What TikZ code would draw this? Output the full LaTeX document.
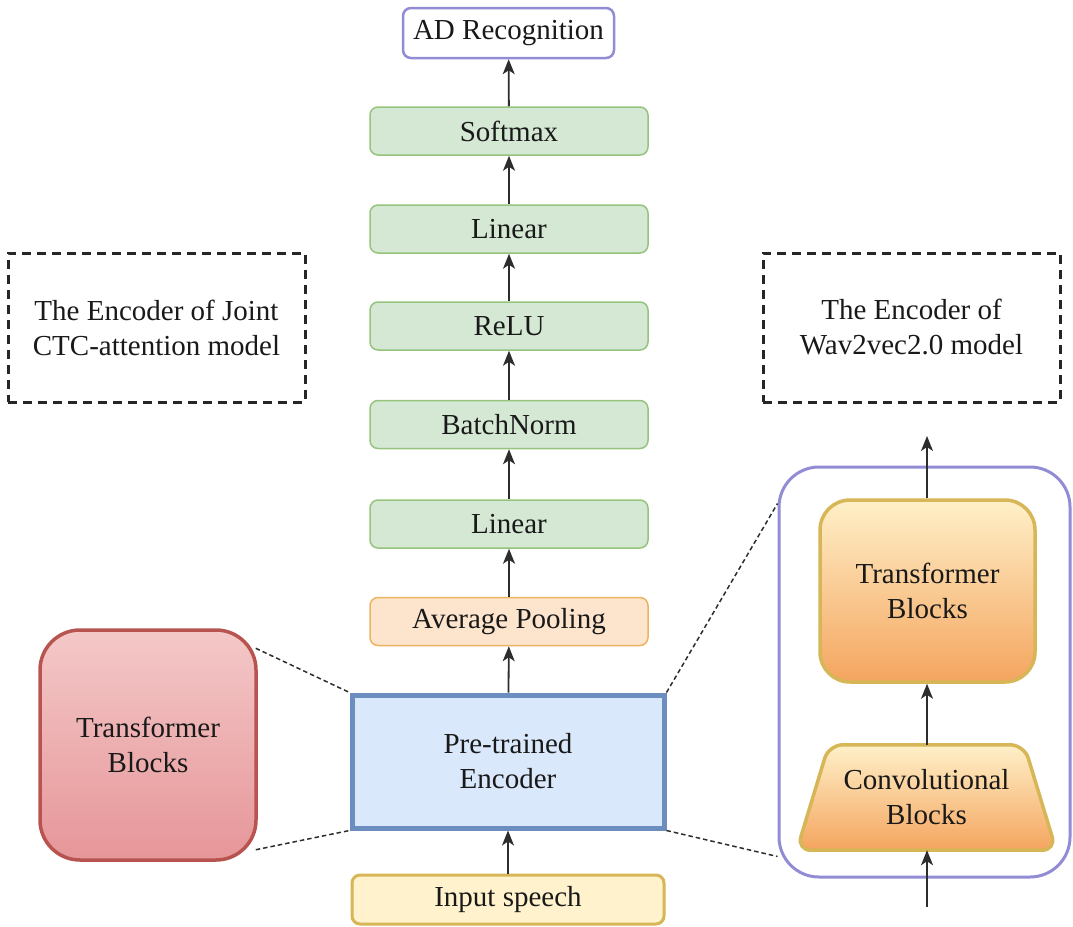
\documentclass[tikz,border=0pt]{standalone}
\usepackage{fontspec}
\setmainfont{Liberation Serif}
\usetikzlibrary{arrows.meta,calc}

\definecolor{txt}{RGB}{25,25,25}
\definecolor{lnk}{RGB}{45,45,45}
\definecolor{violetline}{RGB}{145,140,212}
\definecolor{greenfill}{RGB}{213,232,212}
\definecolor{greenline}{RGB}{150,195,125}
\definecolor{poolfill}{RGB}{253,228,204}
\definecolor{poolline}{RGB}{236,180,95}
\definecolor{encfill}{RGB}{218,232,252}
\definecolor{encline}{RGB}{108,142,191}
\definecolor{inpfill}{RGB}{255,242,204}
\definecolor{inpline}{RGB}{214,182,86}
\definecolor{redtop}{RGB}{244,200,200}
\definecolor{redbot}{RGB}{230,150,153}
\definecolor{redline}{RGB}{184,84,80}
\definecolor{orgtop}{RGB}{255,240,200}
\definecolor{orgbot}{RGB}{244,165,95}

\tikzset{
  x=1pt, y=-1pt,
  every node/.style={font=\fontsize{29}{35}\selectfont, text=txt, align=center, inner sep=0pt},
  layerbox/.style={draw=greenline, fill=greenfill, line width=1.5pt, rounded corners=8pt,
    minimum width=278pt, minimum height=48pt},
  flow/.style={draw=lnk, line width=1.8pt, -{Stealth[length=15pt,width=12pt,inset=4pt]}},
  zoomline/.style={draw=lnk, line width=1.5pt, dash pattern=on 4.5pt off 3pt},
  notebox/.style={draw=black!85, line width=3pt, dash pattern=on 9pt off 6pt,
    minimum width=297pt, minimum height=149pt},
}

\begin{document}
\begin{tikzpicture}
\useasboundingbox (0,0) rectangle (1073,926);

% central classification head
\node[draw=violetline, fill=white, line width=2.5pt, rounded corners=8pt,
  minimum width=211pt, minimum height=50pt] (ad) at (508.5,33) {AD Recognition};
\node[layerbox] (softmax) at (509,131) {Softmax};
\node[layerbox] (lin2) at (509,229) {Linear};
\node[layerbox] (relu) at (509,326) {ReLU};
\node[layerbox] (bn) at (509,424.5) {BatchNorm};
\node[layerbox] (lin1) at (509,524) {Linear};
\node[layerbox, draw=poolline, fill=poolfill] (pool) at (509,621.5) {Average Pooling};
\node[draw=encline, fill=encfill, line width=5pt,
  minimum width=312pt, minimum height=133pt] (enc) at (508,761.5) {Pre-trained\\Encoder};
\node[draw=inpline, fill=inpfill, line width=3pt, rounded corners=8pt,
  minimum width=312pt, minimum height=49pt] (inp) at (508,899.5) {Input speech};

% captions
\node[notebox] (capjoint) at (156.5,327.5) {The Encoder of Joint\\CTC-attention model};
\node[notebox] (capw2v) at (911.5,327.5) {The Encoder of\\Wav2vec2.0 model};

% joint CTC-attention encoder
\node[draw=redline, top color=redtop, bottom color=redbot, line width=3.5pt,
  rounded corners=40pt, minimum width=216pt, minimum height=230pt] (lt) at (148,745)
  {Transformer\\Blocks};

% wav2vec2.0 encoder
\node[draw=violetline, line width=3pt, rounded corners=40pt,
  minimum width=291pt, minimum height=410pt] (big) at (924.5,672) {};
\node[draw=inpline, top color=orgtop, bottom color=orgbot, line width=3.5pt,
  rounded corners=30pt, minimum width=215pt, minimum height=182pt] (rt) at (927.5,591)
  {Transformer\\Blocks};
\node[minimum width=259pt, minimum height=105pt] (conv) at (926.5,797.5) {};
\path[draw=inpline, top color=orgtop, bottom color=orgbot, line width=3.5pt,
  rounded corners=14pt]
  (conv.south west) -- ($(conv.north west)+(32,0)$) -- ($(conv.north east)+(-32,0)$)
  -- (conv.south east) -- cycle;
\node at (conv.center) {Convolutional\\Blocks};

\coordinate (w2vin) at (927,907);
\coordinate (w2vout) at (927,436);

% data flow
\draw[flow] (inp) -- (enc);
\draw[flow] (enc) -- (pool);
\draw[flow] (pool) -- (lin1);
\draw[flow] (lin1) -- (bn);
\draw[flow] (bn) -- (relu);
\draw[flow] (relu) -- (lin2);
\draw[flow] (lin2) -- (softmax);
\draw[flow] (softmax) -- (ad);
\draw[flow] (w2vin) -- (conv.south -| w2vin);
\draw[flow] (conv.north -| w2vin) -- (rt.south -| w2vin);
\draw[flow] (rt.north -| w2vin) -- (w2vout);

% zoom guides
\draw[zoomline] ($(lt.north east)+(-2,20)$) -- (enc.north west);
\draw[zoomline] ($(lt.south east)+(-2,-12)$) -- (enc.south west);
\draw[zoomline] (enc.north east) -- ($(big.north west)+(0,38)$);
\draw[zoomline] (enc.south east) -- ($(big.south west)+(0,-22)$);
\end{tikzpicture}
\end{document}
